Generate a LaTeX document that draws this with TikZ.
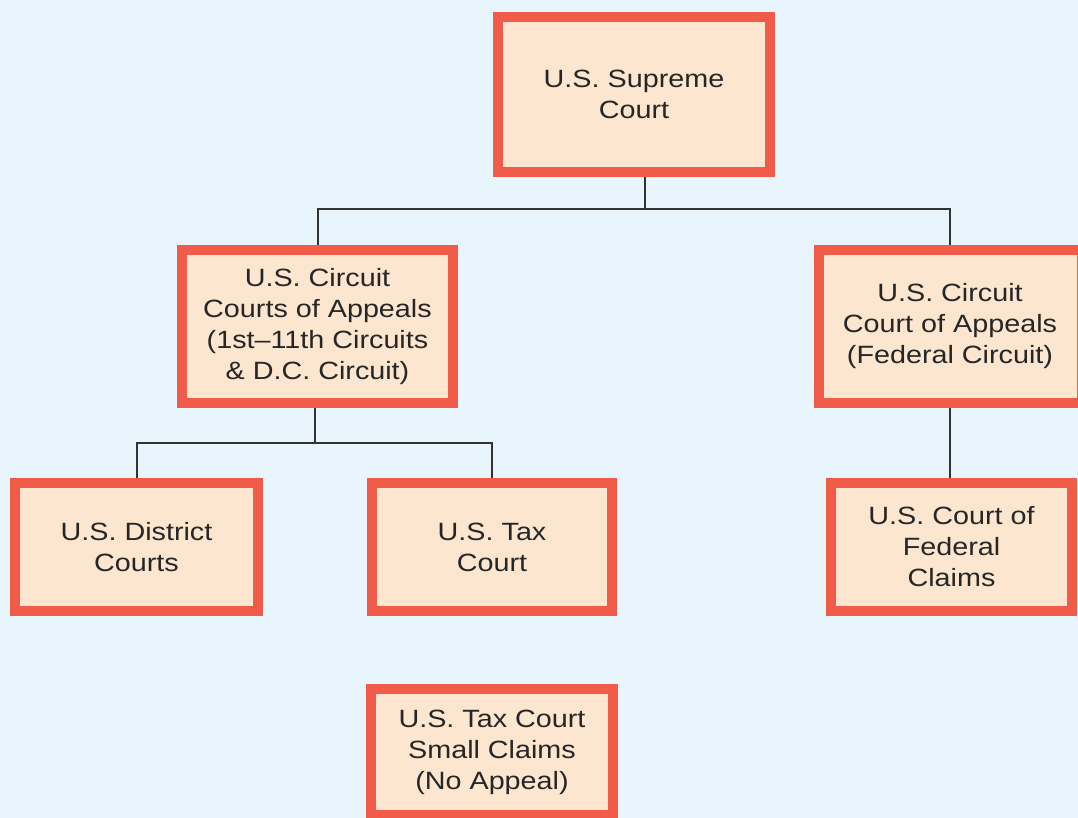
\documentclass[tikz,border=0pt]{standalone}
\usepackage{fontspec}
\setmainfont{Liberation Sans}[FakeStretch=1.15]
\pgfdeclarelayer{background}
\pgfsetlayers{background,main}
\definecolor{bgblue}{HTML}{E9F5FD}
\definecolor{boxfill}{HTML}{FDE6D0}
\definecolor{boxline}{HTML}{F05B4A}
\definecolor{conn}{HTML}{333333}
\definecolor{txt}{HTML}{262626}
\tikzset{
  court/.style={draw=boxline, fill=boxfill, line width=10pt, inner sep=0pt, outer sep=0pt,
    align=center, text=txt, font=\fontsize{25}{31}\selectfont},
  link/.style={draw=conn, line width=2pt}
}
\begin{document}
\begin{tikzpicture}[x=1pt, y=-1pt]
\useasboundingbox (0,0) rectangle (1078,818);
\clip (0,0) rectangle (1078,818);
\node[court, minimum width=272pt, minimum height=155pt] (sup) at (634,94.5) {U.S. Supreme\\Court};
\node[court, minimum width=271pt, minimum height=153pt] (cca) at (317.5,326.5) {U.S. Circuit\\Courts of Appeals\\(1st--11th Circuits\\\& D.C. Circuit)};
\node[court, minimum width=263pt, minimum height=153pt] (fed) at (950,326.5) {U.S. Circuit\\Court of Appeals\\(Federal Circuit)};
\node[court, minimum width=243pt, minimum height=128pt] (dist) at (136.5,547) {U.S. District\\Courts};
\node[court, minimum width=240pt, minimum height=128pt] (tax) at (492,547) {U.S. Tax\\Court};
\node[court, minimum width=241pt, minimum height=128pt] (claims) at (951.5,547) {U.S. Court of\\Federal\\Claims};
\node[court, minimum width=242pt, minimum height=126pt] (small) at (492,752) {U.S. Tax Court\\Small Claims\\(No Appeal)};
\coordinate (j1) at (645,209);
\coordinate (j2) at (315,443);
\begin{pgfonlayer}{background}
\fill[bgblue] (0,0) rectangle (1078,818);
\draw[link] (j1 |- sup.south) -- (j1);
\draw[link] (cca.north) |- (j1) -| (fed.north);
\draw[link] (j2 |- cca.south) -- (j2);
\draw[link] (dist.north) |- (j2) -| (tax.north);
\draw[link] (fed.south) -- (fed.south |- claims.north);
\end{pgfonlayer}
\end{tikzpicture}
\end{document}
